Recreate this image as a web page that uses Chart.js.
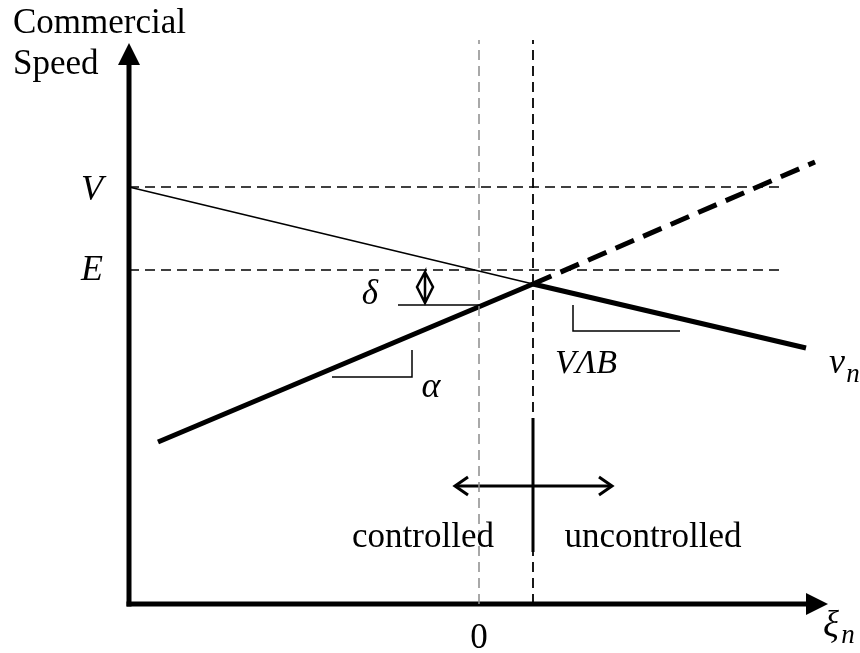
<!DOCTYPE html>
<html>
<head>
    <title>Commercial Speed</title>
    <script src="https://cdn.jsdelivr.net/npm/chart.js@4.4.0/dist/chart.umd.min.js"></script>
    <style>
        body {
            margin: 0;
            background: #fff;
        }

        #wrap {
            width: 860px;
            height: 653px;
            position: relative;
        }
    </style>
</head>
<body>
    <div id="wrap"><canvas id="diagram"></canvas></div>

    <script>
        // speed levels and positions on the xi axis (schematic units)
        const levelV = 8.34;
        const levelE = 6.68;
        const xiZero = 0;
        const xiKink = 1.08;
        const speedKink = 6.4;

        // the curves
        const freeFlowLine = [[-7, levelV], [xiKink, speedKink]];
        const controlledLine = [[-6.42, 3.24], [xiKink, speedKink]];
        const uncontrolledLine = [[xiKink, speedKink], [6.54, 5.12]];
        const extendedLine = [[xiKink, speedKink], [6.72, 8.84]];

        // guide lines
        const levelVLine = [[-7, levelV], [6.12, levelV]];
        const levelELine = [[-7, levelE], [6.12, levelE]];
        const zeroGuide = [[xiZero, 0], [xiZero, 11.28]];
        const kinkGuide = [[xiKink, 0], [xiKink, 11.28]];

        // small markers
        const deltaRef = [[-1.62, 5.98], [xiZero, 5.98]];
        const deltaDiamond = [[-1.08, 6.64], [-0.92, 6.34], [-1.08, 6.02], [-1.24, 6.34], [-1.08, 6.64], [-1.08, 6.02]];
        const alphaMark = [[-2.94, 4.54], [-1.34, 4.54], [-1.34, 5.08]];
        const slopeMark = [[1.88, 5.98], [1.88, 5.46], [4.02, 5.46]];
        const splitBar = [[xiKink, 3.72], [xiKink, 1.04]];
        const splitArrow = [[-0.48, 2.36], [2.66, 2.36]];

        // axes
        const yAxisLine = [[-7, 0], [-7, 10.9]];
        const xAxisLine = [[-7, 0], [6.6, 0]];

        // arrow heads: [from, to, kind]
        const arrowHeads = [
            [[-7, 10.78], [-7, 11.22], 'filled'],
            [[6.54, 0], [6.98, 0], 'filled'],
            [[0, 2.36], [-0.48, 2.36], 'open'],
            [[2, 2.36], [2.66, 2.36], 'open']
        ];

        // text labels: text, x, y (baseline), size, italic, align
        const labels = [
            ['Commercial', -9.32, 11.42, 35, false, 'left'],
            ['Speed', -9.32, 10.6, 35, false, 'left'],
            ['V', -7.74, 8.08, 36, true, 'center'],
            ['E', -7.74, 6.48, 36, true, 'center'],
            ['\u03b4', -2.18, 6.0, 35, true, 'center'],
            ['\u03b1', -0.96, 4.14, 36, true, 'center'],
            ['V\u039bB', 2.14, 4.62, 34, true, 'center'],
            ['v', 7.16, 4.62, 36, true, 'center'],
            ['n', 7.48, 4.44, 27, true, 'center'],
            ['0', 0, -0.88, 35, false, 'center'],
            ['\u03be', 7.04, -0.66, 37, true, 'center'],
            ['n', 7.38, -0.78, 27, true, 'center'],
            ['controlled', -1.12, 1.14, 35, false, 'center'],
            ['uncontrolled', 3.48, 1.14, 35, false, 'center']
        ];

        function pts(arr) {
            return arr.map(p => ({ x: p[0], y: p[1] }));
        }

        function seg(arr, width, color, dash, cap) {
            return {
                data: pts(arr),
                showLine: true,
                borderColor: color || '#000',
                borderWidth: width,
                borderDash: dash || [],
                borderCapStyle: cap || 'butt',
                borderJoinStyle: 'miter',
                pointRadius: 0,
                fill: false,
                tension: 0,
                clip: false
            };
        }

        const overlay = {
            id: 'overlay',
            afterDatasetsDraw(chart) {
                const ctx = chart.ctx;
                const sx = chart.scales.x;
                const sy = chart.scales.y;
                ctx.save();

                arrowHeads.forEach(a => {
                    const x0 = sx.getPixelForValue(a[0][0]), y0 = sy.getPixelForValue(a[0][1]);
                    const x1 = sx.getPixelForValue(a[1][0]), y1 = sy.getPixelForValue(a[1][1]);
                    const ang = Math.atan2(y1 - y0, x1 - x0);
                    ctx.save();
                    ctx.translate(x1, y1);
                    ctx.rotate(ang);
                    ctx.beginPath();
                    if (a[2] === 'filled') {
                        ctx.moveTo(0, 0);
                        ctx.lineTo(-22, -11);
                        ctx.lineTo(-22, 11);
                        ctx.closePath();
                        ctx.fillStyle = '#000';
                        ctx.fill();
                    } else {
                        ctx.moveTo(-13, -9);
                        ctx.lineTo(0, 0);
                        ctx.lineTo(-13, 9);
                        ctx.lineWidth = 3;
                        ctx.strokeStyle = '#000';
                        ctx.stroke();
                    }
                    ctx.restore();
                });

                ctx.fillStyle = '#000';
                ctx.textBaseline = 'alphabetic';
                labels.forEach(l => {
                    ctx.font = (l[4] ? 'italic ' : '') + l[3] + 'px "Liberation Serif", "Times New Roman", serif';
                    ctx.textAlign = l[5];
                    ctx.fillText(l[0], sx.getPixelForValue(l[1]), sy.getPixelForValue(l[2]));
                });

                ctx.restore();
            }
        };

        new Chart(document.getElementById('diagram'), {
            type: 'scatter',
            data: {
                datasets: [
                    seg(levelVLine, 1.5, '#000', [10, 6]),
                    seg(levelELine, 1.5, '#000', [10, 6]),
                    seg(zeroGuide, 1.5, '#8c8c8c', [10, 6]),
                    seg(kinkGuide, 1.8, '#000', [10, 6]),
                    seg(freeFlowLine, 1.6),
                    seg(controlledLine, 5),
                    seg(uncontrolledLine, 5),
                    seg(extendedLine, 5, '#000', [20, 10]),
                    seg(deltaRef, 1.5),
                    seg(deltaDiamond, 2.5),
                    seg(alphaMark, 1.5),
                    seg(slopeMark, 1.5),
                    seg(splitBar, 3),
                    seg(splitArrow, 3),
                    seg(yAxisLine, 5, '#000', [], 'square'),
                    seg(xAxisLine, 5, '#000', [], 'square')
                ]
            },
            options: {
                responsive: true,
                maintainAspectRatio: false,
                animation: false,
                events: [],
                layout: {
                    padding: { left: 129, right: 31, top: 29, bottom: 49 }
                },
                scales: {
                    x: { type: 'linear', min: -7, max: 7, display: false },
                    y: { type: 'linear', min: 0, max: 11.5, display: false }
                },
                plugins: {
                    legend: { display: false },
                    tooltip: { enabled: false }
                }
            },
            plugins: [overlay]
        });
    </script>
</body>
</html>
